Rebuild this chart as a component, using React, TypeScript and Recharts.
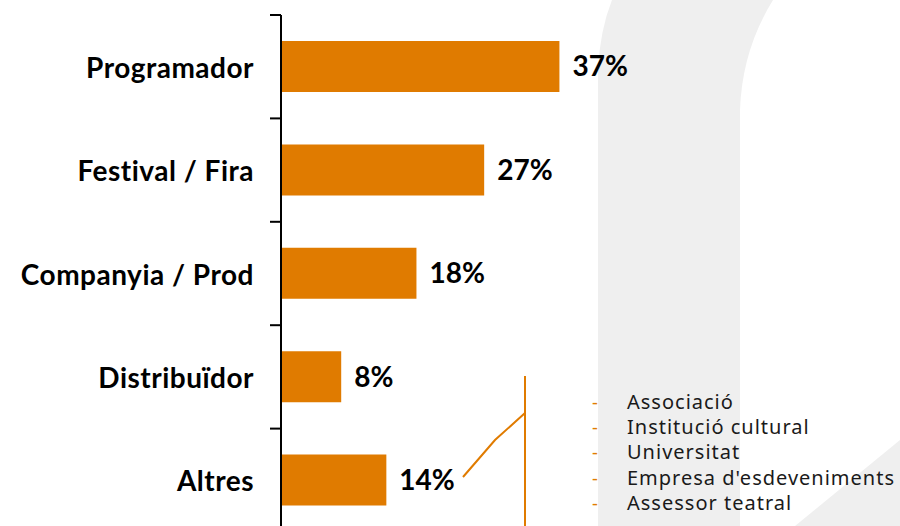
import React from 'react';
import { BarChart, Bar, XAxis, YAxis, LabelList } from 'recharts';

const categories = ['Programador', 'Festival / Fira', 'Companyia / Prod', 'Distribuïdor', 'Altres'];
const percentages = [37, 27, 18, 8, 14];
const altresItems = ['Associació', 'Institució cultural', 'Universitat', "Empresa d'esdeveniments", 'Assessor teatral'];

const data = categories.map((name, i) => ({ name, value: percentages[i] }));

const ORANGE = '#E07B00';
const LABEL_FONT = 'Lato, "DejaVu Sans", sans-serif';
const LIST_FONT = '"Noto Sans", "Open Sans", sans-serif';
const TICK_SIZE = 11;
const TICK_MARGIN = 16;

function CategoryTick(props: any) {
  const { x, y, payload, index, visibleTicksCount } = props;
  const half = payload && typeof payload.offset === 'number' ? payload.offset : 0;
  const axisX = x + TICK_MARGIN + TICK_SIZE;
  const isLast = index === (visibleTicksCount ?? 0) - 1;
  return (
    <g>
      <line x1={axisX - TICK_SIZE} x2={axisX} y1={y - half} y2={y - half} stroke="#000" strokeWidth={2} />
      {isLast && (
        <line x1={axisX - TICK_SIZE} x2={axisX} y1={y + half} y2={y + half} stroke="#000" strokeWidth={2} />
      )}
      <text
        x={x}
        y={y}
        textAnchor="end"
        dominantBaseline="central"
        fill="#000"
        fontSize={28}
        fontWeight={700}
        letterSpacing={0.5}
        fontFamily={LABEL_FONT}
      >
        {payload.value}
      </text>
    </g>
  );
}

export default function App() {
  return (
    <div style={{ position: 'absolute', left: 0, top: 0, width: 900, height: 526, overflow: 'hidden', background: '#ffffff' }}>
      <svg width={900} height={526} style={{ position: 'absolute', left: 0, top: 0 }}>
        <path d="M612,0 Q600,30 598,70 L598,526 L900,526 L900,0 Z" fill="#efefef" />
        <path d="M773,0 Q742,50 740,110 L740,526 L795,526 L900,440 L900,0 Z" fill="#ffffff" />
      </svg>
      <div style={{ position: 'absolute', left: 0, top: 0 }}>
        <BarChart
          width={900}
          height={560}
          data={data}
          layout="vertical"
          margin={{ top: 15, right: 318, bottom: 28, left: 0 }}
        >
          <XAxis type="number" domain={[0, 40]} hide />
          <YAxis
            type="category"
            dataKey="name"
            width={281}
            axisLine={{ stroke: '#000', strokeWidth: 2 }}
            tickLine={false}
            tickSize={TICK_SIZE}
            tickMargin={TICK_MARGIN}
            tick={<CategoryTick />}
          />
          <Bar dataKey="value" fill={ORANGE} barSize={51} isAnimationActive={false}>
            <LabelList
              dataKey="value"
              position="right"
              offset={13}
              formatter={(v: number) => `${v}%`}
              style={{ fill: '#000', fontSize: 28, fontWeight: 700, fontFamily: LABEL_FONT }}
            />
          </Bar>
        </BarChart>
      </div>
      <svg width={900} height={526} style={{ position: 'absolute', left: 0, top: 0, pointerEvents: 'none' }}>
        <polyline points="463,477 495,440 525,413" fill="none" stroke={ORANGE} strokeWidth={2} />
        <line x1={525} y1={376} x2={525} y2={526} stroke={ORANGE} strokeWidth={2} />
        {altresItems.map((item, i) => (
          <g key={item}>
            <text x={592} y={409 + i * 25.2} fill={ORANGE} fontSize={18} fontFamily={LIST_FONT}>-</text>
            <text x={627} y={409 + i * 25.2} fill="#1a1a1a" fontSize={20} letterSpacing={1} fontFamily={LIST_FONT}>{item}</text>
          </g>
        ))}
      </svg>
    </div>
  );
}
